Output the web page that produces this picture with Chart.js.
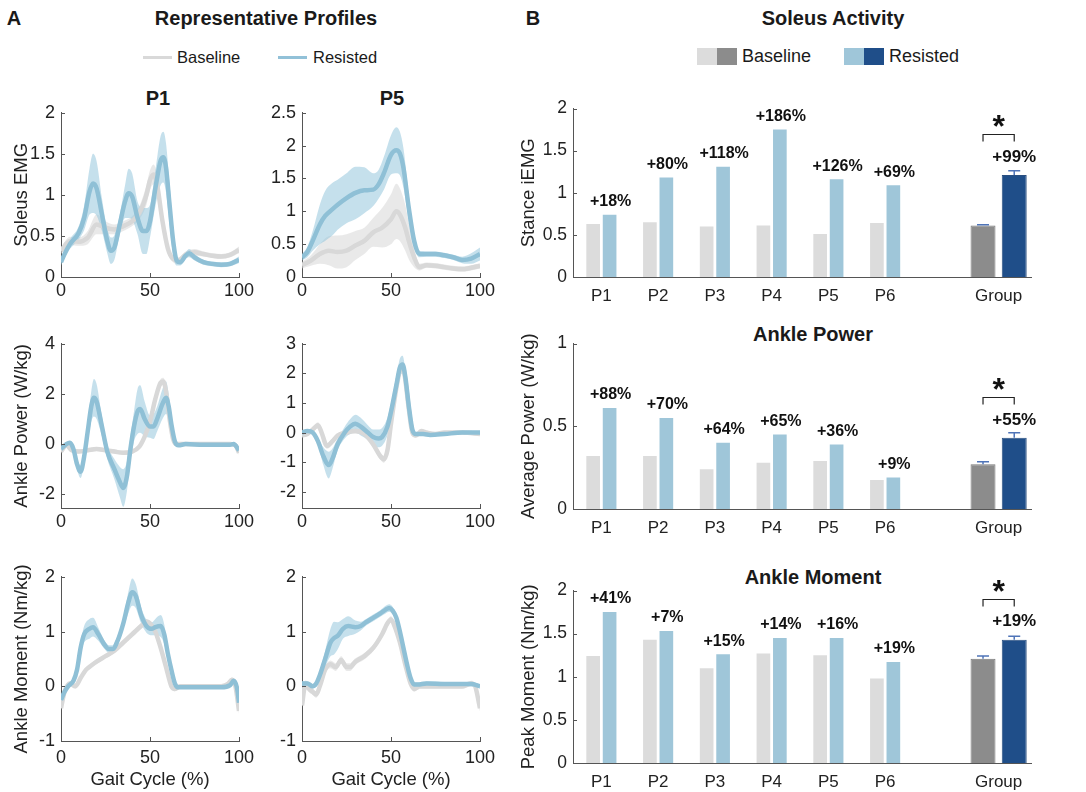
<!DOCTYPE html>
<html>
<head>
<meta charset="utf-8">
<script src="https://cdn.jsdelivr.net/npm/chart.js@4.4.1/dist/chart.umd.min.js"></script>
<style>
body { margin: 0; background: #fff; width: 1086px; height: 792px; position: relative; overflow: hidden;
       font-family: Arial, "Liberation Sans", sans-serif; color: #1a1a1a; }
canvas { position: absolute; }
.t { position: absolute; white-space: nowrap; transform: translate(-50%, -50%); font-weight: bold; font-size: 20px; }
.lg { position: absolute; white-space: nowrap; transform: translateY(-50%); }
.sw { position: absolute; }
</style>
</head>
<body>
<div class="t" style="left:14px;top:18px">A</div>
<div class="t" style="left:266px;top:18px">Representative Profiles</div>
<div class="t" style="left:533px;top:18px">B</div>
<div class="t" style="left:833px;top:18px">Soleus Activity</div>
<div class="t" style="left:158px;top:98px">P1</div>
<div class="t" style="left:392px;top:98px">P5</div>
<div class="t" style="left:813px;top:334px">Ankle Power</div>
<div class="t" style="left:813px;top:577px">Ankle Moment</div>

<div class="sw" style="left:143px;top:56px;width:29px;height:3px;background:#d9d9d9"></div>
<div class="lg" style="left:177px;top:57px;font-size:16.5px">Baseline</div>
<div class="sw" style="left:278px;top:56px;width:29px;height:3px;background:#92c1d8"></div>
<div class="lg" style="left:313px;top:57px;font-size:16.5px">Resisted</div>

<div class="sw" style="left:697px;top:48px;width:20px;height:17px;background:#dcdcdc"></div>
<div class="sw" style="left:717px;top:48px;width:20px;height:17px;background:#8c8c8c"></div>
<div class="lg" style="left:742px;top:56px;font-size:18px">Baseline</div>
<div class="sw" style="left:844px;top:48px;width:20px;height:17px;background:#9fc6d9"></div>
<div class="sw" style="left:864px;top:48px;width:20px;height:17px;background:#1f4e89"></div>
<div class="lg" style="left:889px;top:56px;font-size:18px">Resisted</div>

<canvas id="emg1"></canvas><canvas id="emg5"></canvas>
<canvas id="pow1"></canvas><canvas id="pow5"></canvas>
<canvas id="mom1"></canvas><canvas id="mom5"></canvas>
<canvas id="barEmg"></canvas><canvas id="barPow"></canvas><canvas id="barMom"></canvas>

<script>
// ---- representative profiles (gait cycle %, mean, half-width of band) ----
const emgP1ResX = [0,2,5,10,13,16,18,20,23,26,28,30,33,36,38,40,43,46,48,50,53,56,57.5,59,61,63,65,67,70,72,75,80,85,90,95,100];
const emgP1Res = [0.18,0.28,0.4,0.54,0.72,1.04,1.14,1.08,0.76,0.44,0.32,0.36,0.64,0.92,1.02,0.98,0.72,0.56,0.56,0.68,1.08,1.42,1.46,1.33,0.88,0.44,0.2,0.18,0.26,0.29,0.24,0.18,0.16,0.15,0.16,0.21];
const emgP1ResSd = [0.04,0.05,0.06,0.08,0.15,0.28,0.36,0.33,0.2,0.15,0.16,0.15,0.12,0.2,0.3,0.28,0.2,0.28,0.28,0.2,0.22,0.3,0.31,0.3,0.25,0.18,0.06,0.04,0.04,0.05,0.04,0.03,0.03,0.03,0.03,0.04];
const emgP1BaseX = [0,5,10,15,20,25,30,35,40,44,48,50,52,54,57,60,63,66,70,75,80,85,90,95,100];
const emgP1Base = [0.32,0.44,0.43,0.48,0.64,0.6,0.58,0.62,0.68,0.78,1.0,1.18,1.25,1.12,0.68,0.35,0.22,0.2,0.27,0.3,0.28,0.26,0.25,0.27,0.33];
const emgP1BaseSd = [0.04,0.05,0.05,0.08,0.12,0.08,0.06,0.06,0.06,0.08,0.12,0.12,0.12,0.12,0.1,0.06,0.04,0.04,0.04,0.04,0.03,0.03,0.03,0.03,0.04];

const emgP5ResX = [0,3,6,10,13,17,20,25,30,35,40,43,46,50,53,55,57,60,63,66,70,75,80,85,90,95,100];
const emgP5Res = [0.3,0.38,0.55,0.8,0.93,1.03,1.1,1.2,1.28,1.32,1.33,1.41,1.58,1.86,1.93,1.88,1.66,1.05,0.55,0.35,0.35,0.35,0.33,0.3,0.26,0.28,0.35];
const emgP5ResSd = [0.05,0.08,0.15,0.3,0.38,0.4,0.38,0.38,0.4,0.35,0.25,0.22,0.25,0.3,0.35,0.33,0.3,0.2,0.1,0.05,0.04,0.04,0.04,0.04,0.05,0.08,0.1];
const emgP5BaseX = [0,5,10,15,20,25,30,35,40,45,50,53,55,58,60,63,66,70,75,80,85,90,95,100];
const emgP5Base = [0.18,0.25,0.35,0.4,0.38,0.4,0.48,0.55,0.68,0.75,0.88,1.0,0.95,0.75,0.55,0.3,0.15,0.18,0.17,0.15,0.13,0.12,0.14,0.17];
const emgP5BaseSd = [0.05,0.08,0.15,0.22,0.25,0.25,0.22,0.2,0.22,0.3,0.38,0.42,0.4,0.35,0.28,0.15,0.05,0.04,0.04,0.04,0.04,0.04,0.04,0.04];

const powP1ResX = [0,3,5,7,9,11,13,15,17,18.5,20,23,26,30,33,35,37,39,41,43,44.5,47,50,52,54,57,59,60.5,62,64,66,70,80,90,95,97,100];
const powP1Res = [-0.2,0.0,0.05,-0.2,-0.8,-1.1,-0.5,0.5,1.5,1.85,1.7,0.7,-0.3,-1.0,-1.5,-1.75,-1.3,-0.2,0.7,1.3,1.4,1.0,0.7,0.7,1.0,1.6,1.85,1.5,0.8,0.1,-0.05,0.0,-0.03,-0.03,-0.03,0.0,-0.25];
const powP1ResSd = [0.05,0.05,0.05,0.1,0.2,0.25,0.3,0.4,0.6,0.75,0.7,0.4,0.3,0.4,0.6,0.75,0.6,0.5,0.6,0.9,0.95,0.7,0.45,0.5,0.5,0.6,0.65,0.5,0.3,0.1,0.05,0.04,0.04,0.04,0.04,0.04,0.05];
const powP1BaseX = [0,3,6,10,15,20,25,30,35,40,44,47,50,53,56,57.5,59,61,63,65,70,80,90,95,98,100];
const powP1Base = [-0.3,-0.05,-0.25,-0.3,-0.25,-0.2,-0.25,-0.3,-0.35,-0.3,-0.1,0.3,0.9,1.8,2.45,2.5,2.1,1.0,0.2,0.0,0.0,0.0,0.0,0.0,-0.05,-0.35];
const powP1BaseSd = [0.08,0.08,0.08,0.08,0.08,0.08,0.08,0.08,0.08,0.08,0.08,0.1,0.12,0.15,0.15,0.15,0.15,0.12,0.08,0.06,0.05,0.05,0.05,0.05,0.06,0.08];

const powP5ResX = [0,3,6,9,12,15,17,20,24,27,30,33,37,40,43,45,48,50,53,55,56.5,58,60,62,64,68,72,80,90,100];
const powP5Res = [0.0,0.05,0.0,-0.3,-0.8,-1.1,-0.9,-0.4,0.0,0.2,0.3,0.2,0.0,-0.15,-0.2,-0.15,0.2,0.7,1.6,2.2,2.3,1.9,0.9,0.1,-0.05,-0.05,-0.08,-0.05,0.0,0.0];
const powP5ResSd = [0.04,0.05,0.05,0.1,0.3,0.45,0.35,0.2,0.2,0.25,0.3,0.3,0.25,0.25,0.3,0.3,0.3,0.3,0.3,0.3,0.3,0.25,0.15,0.08,0.05,0.05,0.05,0.04,0.04,0.05];
const powP5BaseX = [0,3,6,9,11,14,17,20,25,30,35,40,44,46,48,50,53,55,56.5,58,60,62,64,67,70,75,80,90,100];
const powP5Base = [-0.1,-0.05,0.1,0.25,0.0,-0.45,-0.3,-0.1,0.0,0.05,-0.05,-0.4,-0.8,-0.9,-0.6,0.3,1.5,2.1,2.25,1.8,0.8,0.0,-0.1,0.05,0.0,-0.05,0.0,0.0,-0.05];
const powP5BaseSd = [0.06,0.06,0.08,0.1,0.1,0.1,0.1,0.08,0.08,0.08,0.08,0.1,0.12,0.12,0.12,0.12,0.12,0.12,0.12,0.12,0.1,0.08,0.06,0.06,0.05,0.05,0.05,0.05,0.06];

const momP1ResX = [0,2,4,7,9,11,13,16,18,21,24,27,29,32,35,38,40,42,45,48,51,53,56,58,60,62,64,66,70,80,90,95,97,99,100];
const momP1Res = [-0.25,-0.1,0.0,0.1,0.3,0.7,0.95,1.05,1.08,0.95,0.78,0.68,0.68,0.85,1.15,1.55,1.72,1.65,1.3,1.1,1.05,1.08,1.1,0.95,0.6,0.3,0.05,-0.02,-0.02,-0.02,-0.02,0.02,0.1,-0.05,-0.3];
const momP1ResSd = [0.03,0.03,0.03,0.04,0.06,0.1,0.15,0.18,0.17,0.12,0.08,0.07,0.07,0.08,0.1,0.2,0.25,0.22,0.15,0.12,0.12,0.15,0.2,0.18,0.1,0.06,0.03,0.02,0.02,0.02,0.02,0.02,0.03,0.03,0.03];
const momP1BaseX = [0,2,5,8,11,14,17,20,25,30,35,40,45,48,50,53,56,59,62,64,67,70,80,90,94,96,98,100];
const momP1Base = [-0.4,-0.1,0.05,0.0,0.15,0.3,0.38,0.45,0.55,0.65,0.8,0.95,1.1,1.18,1.15,1.0,0.7,0.35,0.0,-0.05,0.0,0.0,0.0,0.0,0.05,0.12,0.0,-0.45];
const momP1BaseSd = [0.04,0.04,0.04,0.04,0.04,0.04,0.04,0.04,0.04,0.04,0.04,0.04,0.05,0.05,0.05,0.05,0.05,0.05,0.04,0.04,0.04,0.04,0.04,0.04,0.04,0.04,0.04,0.05];

const momP5ResX = [0,3,6,8,10,13,16,18,20,23,26,30,33,36,40,44,47,49,51,53,55,57,59,61,63,65,70,80,90,95,100];
const momP5Res = [0.05,0.05,0.0,0.05,0.2,0.5,0.8,0.88,0.92,1.05,1.1,1.08,1.1,1.17,1.25,1.33,1.4,1.43,1.38,1.25,1.0,0.7,0.4,0.15,0.03,0.03,0.05,0.04,0.04,0.04,0.0];
const momP5ResSd = [0.04,0.04,0.04,0.05,0.08,0.15,0.25,0.3,0.25,0.18,0.18,0.12,0.08,0.06,0.06,0.06,0.07,0.07,0.07,0.06,0.05,0.05,0.05,0.04,0.04,0.04,0.04,0.04,0.04,0.04,0.04];
const momP5BaseX = [0,2,4,6,8,10,13,16,19,22,25,27,30,35,40,45,48,50,52,55,58,61,63,66,70,80,90,95,97,100];
const momP5Base = [-0.35,0.05,-0.05,-0.1,-0.15,0.0,0.3,0.4,0.35,0.48,0.35,0.35,0.45,0.55,0.7,0.95,1.15,1.22,1.1,0.8,0.4,0.05,-0.05,0.0,0.0,0.0,0.0,0.05,0.02,-0.4];
const momP5BaseSd = [0.06,0.06,0.06,0.06,0.06,0.06,0.06,0.07,0.07,0.07,0.07,0.07,0.06,0.06,0.06,0.06,0.06,0.06,0.06,0.06,0.06,0.05,0.05,0.05,0.05,0.05,0.05,0.05,0.05,0.06];

// ---- bar summaries ----
const participants = ['P1', 'P2', 'P3', 'P4', 'P5', 'P6'];
const groupLabel = 'Group';

const emgBase = [0.63, 0.65, 0.60, 0.61, 0.51, 0.64];
const emgRes = [0.74, 1.18, 1.31, 1.75, 1.16, 1.09];
const emgChange = [18, 80, 118, 186, 126, 69];
const emgGroup = [0.61, 1.21];      // baseline, resisted
const emgGroupErr = [0.01, 0.05];
const emgGroupChange = 99;

const powBase = [0.32, 0.32, 0.24, 0.28, 0.29, 0.175];
const powRes = [0.61, 0.55, 0.40, 0.45, 0.39, 0.19];
const powChange = [88, 70, 64, 65, 36, 9];
const powGroup = [0.27, 0.43];
const powGroupErr = [0.015, 0.03];
const powGroupChange = 55;

const momBase = [1.24, 1.43, 1.10, 1.27, 1.25, 0.98];
const momRes = [1.75, 1.53, 1.26, 1.45, 1.45, 1.17];
const momChange = [41, 7, 15, 14, 16, 19];
const momGroup = [1.21, 1.43];
const momGroupErr = [0.03, 0.04];
const momGroupChange = 19;

// ---- styling ----
const axisColor = '#555';
const textColor = '#222';
const fontFam = 'Arial, "Liberation Sans", sans-serif';
const resLine = '#8fc0d6', resBand = 'rgba(150,198,220,0.55)';
const baseLine = '#d8d8d8', baseBand = 'rgba(215,215,215,0.55)';
const plainNum = v => String(Math.round(v * 100) / 100);

// small inward tick marks, like the original axes; also lets the x axis run on past the plot
const inTicks = {
  id: 'inTicks',
  afterDraw(chart, args, o) {
    const { ctx, chartArea: a, scales } = chart;
    ctx.save();
    ctx.strokeStyle = axisColor;
    ctx.lineWidth = 1;
    scales.y.ticks.forEach(t => {
      const py = Math.round(scales.y.getPixelForValue(t.value)) + 0.5;
      ctx.beginPath(); ctx.moveTo(a.left, py); ctx.lineTo(a.left + 4, py); ctx.stroke();
    });
    if (scales.x.type === 'linear') {
      scales.x.ticks.forEach(t => {
        const px = Math.round(scales.x.getPixelForValue(t.value)) + 0.5;
        ctx.beginPath(); ctx.moveTo(px, a.bottom); ctx.lineTo(px, a.bottom - 4); ctx.stroke();
      });
    }
    if (o && o.extend) {
      const py = Math.round(a.bottom) + 0.5;
      ctx.beginPath(); ctx.moveTo(a.right, py); ctx.lineTo(a.right + o.extend, py); ctx.stroke();
    }
    ctx.restore();
  }
};

function place(id, left, top, width, height) {
  const c = document.getElementById(id);
  c.width = width; c.height = height;
  c.style.left = left + 'px'; c.style.top = top + 'px';
  c.style.width = width + 'px'; c.style.height = height + 'px';
  return c;
}

function bandSets(xs, mean, sd, line, band, order) {
  const pts = f => xs.map((x, i) => ({ x: x, y: f(i) }));
  const common = { pointRadius: 0, cubicInterpolationMode: 'monotone' };
  return [
    Object.assign({ data: pts(i => mean[i] + sd[i]), fill: '+1', backgroundColor: band,
      borderColor: 'rgba(0,0,0,0)', borderWidth: 0, order: order + 2 }, common),
    Object.assign({ data: pts(i => mean[i] - sd[i]), fill: false,
      borderColor: 'rgba(0,0,0,0)', borderWidth: 0, order: order + 2 }, common),
    Object.assign({ data: pts(i => mean[i]), fill: false, borderColor: line,
      borderWidth: 4.5, order: order }, common)
  ];
}

// c: canvas box, p: plot box
function lineChart(id, c, p, series, yOpt) {
  place(id, c.l, c.t, c.w, c.h);
  const ctx = document.getElementById(id).getContext('2d');
  return new Chart(ctx, {
    type: 'line',
    data: {
      datasets: [
        ...bandSets(series.baseX, series.base, series.baseSd, baseLine, baseBand, 1),
        ...bandSets(series.resX, series.res, series.resSd, resLine, resBand, 0)
      ]
    },
    options: {
      responsive: false,
      animation: false,
      layout: { padding: { top: p.t - c.t, right: c.l + c.w - p.r, left: 0, bottom: 0 } },
      plugins: { legend: { display: false }, tooltip: { enabled: false } },
      scales: {
        x: {
          type: 'linear', min: 0, max: 100,
          afterBuildTicks: s => { s.ticks = [0, 50, 100].map(v => ({ value: v })); },
          afterFit: s => { s.height = c.t + c.h - p.b; },
          grid: { display: false, drawTicks: false },
          border: { display: true, color: axisColor, width: 1 },
          ticks: { color: textColor, padding: yOpt.xPad, font: { family: fontFam, size: 18 },
                   callback: plainNum },
          title: { display: !!yOpt.xTitle, text: yOpt.xTitle || '', color: textColor,
                   padding: { top: 0, bottom: 1 }, font: { family: fontFam, size: 18.5 } }
        },
        y: {
          min: yOpt.min, max: yOpt.max,
          afterBuildTicks: s => { s.ticks = yOpt.ticks.map(v => ({ value: v })); },
          afterFit: s => { s.width = p.l - c.l; },
          grid: { display: false, drawTicks: false },
          border: { display: true, color: axisColor, width: 1 },
          ticks: { color: textColor, padding: 6, font: { family: fontFam, size: 18 }, callback: plainNum },
          title: { display: !!yOpt.title, text: yOpt.title || '', color: textColor,
                   padding: { top: 11, bottom: 0 }, font: { family: fontFam, size: 18.5 } }
        }
      }
    },
    plugins: [inTicks]
  });
}

const col1 = { l: 0, w: 262, pl: 61, pr: 239 };
const col2 = { l: 250, w: 253, pl: 302, pr: 480 };
const rows = [
  { t: 96, h: 209, pt: 111, pb: 277 },
  { t: 327, h: 209, pt: 342, pb: 508 },
  { t: 560, h: 232, pt: 575, pb: 741 }
];
function boxes(col, row) {
  return [{ l: col.l, t: row.t, w: col.w, h: row.h }, { l: col.pl, r: col.pr, t: row.pt, b: row.pb }];
}

lineChart('emg1', ...boxes(col1, rows[0]),
  { resX: emgP1ResX, res: emgP1Res, resSd: emgP1ResSd, baseX: emgP1BaseX, base: emgP1Base, baseSd: emgP1BaseSd },
  { min: 0, max: 2, ticks: [0, 0.5, 1, 1.5, 2], title: 'Soleus EMG', xPad: 3 });
lineChart('emg5', ...boxes(col2, rows[0]),
  { resX: emgP5ResX, res: emgP5Res, resSd: emgP5ResSd, baseX: emgP5BaseX, base: emgP5Base, baseSd: emgP5BaseSd },
  { min: 0, max: 2.5, ticks: [0, 0.5, 1, 1.5, 2, 2.5], xPad: 3 });
lineChart('pow1', ...boxes(col1, rows[1]),
  { resX: powP1ResX, res: powP1Res, resSd: powP1ResSd, baseX: powP1BaseX, base: powP1Base, baseSd: powP1BaseSd },
  { min: -2.55, max: 4, ticks: [-2, 0, 2, 4], title: 'Ankle Power (W/kg)', xPad: 3 });
lineChart('pow5', ...boxes(col2, rows[1]),
  { resX: powP5ResX, res: powP5Res, resSd: powP5ResSd, baseX: powP5BaseX, base: powP5Base, baseSd: powP5BaseSd },
  { min: -2.55, max: 3, ticks: [-2, -1, 0, 1, 2, 3], xPad: 3 });
lineChart('mom1', ...boxes(col1, rows[2]),
  { resX: momP1ResX, res: momP1Res, resSd: momP1ResSd, baseX: momP1BaseX, base: momP1Base, baseSd: momP1BaseSd },
  { min: -1, max: 2, ticks: [-1, 0, 1, 2], title: 'Ankle Moment (Nm/kg)', xTitle: 'Gait Cycle (%)', xPad: 6 });
lineChart('mom5', ...boxes(col2, rows[2]),
  { resX: momP5ResX, res: momP5Res, resSd: momP5ResSd, baseX: momP5BaseX, base: momP5Base, baseSd: momP5BaseSd },
  { min: -1, max: 2, ticks: [-1, 0, 1, 2], xTitle: 'Gait Cycle (%)', xPad: 6 });

// ---- bar charts ----
const errColor = '#4f74b8';

// error bars, % change labels and significance bracket
const barNotes = {
  id: 'barNotes',
  afterDatasetsDraw(chart, args, o) {
    const { ctx } = chart;
    const y = chart.scales.y;
    const last = o.labels.length - 1;
    ctx.save();
    // error bars on group bars
    [2, 3].forEach((di, k) => {
      const bar = chart.getDatasetMeta(di).data[last];
      const top = y.getPixelForValue(o.group[k] + o.err[k]);
      ctx.strokeStyle = errColor; ctx.lineWidth = 1.5;
      ctx.beginPath();
      ctx.moveTo(bar.x, bar.y); ctx.lineTo(bar.x, top);
      ctx.moveTo(bar.x - 6, top); ctx.lineTo(bar.x + 6, top);
      ctx.stroke();
    });
    // percent change labels
    ctx.fillStyle = '#111';
    ctx.font = 'bold 16px ' + fontFam;
    ctx.textAlign = 'center';
    ctx.textBaseline = 'middle';
    const resMeta = chart.getDatasetMeta(1);
    o.change.forEach((v, i) => {
      const bar = resMeta.data[i];
      ctx.fillText('+' + v + '%', bar.x + 1, bar.y - 13);
    });
    const gb = chart.getDatasetMeta(2).data[last];
    const gr = chart.getDatasetMeta(3).data[last];
    ctx.font = 'bold 17px ' + fontFam;
    ctx.fillText('+' + o.groupChange + '%', gr.x, gr.y - 18);
    // bracket + star
    const bt = Math.round(gr.y - 41) + 0.5;
    ctx.strokeStyle = '#222'; ctx.lineWidth = 1.2;
    ctx.beginPath();
    ctx.moveTo(gb.x, bt + 7); ctx.lineTo(gb.x, bt); ctx.lineTo(gr.x, bt); ctx.lineTo(gr.x, bt + 7);
    ctx.stroke();
    ctx.font = 'bold 32px ' + fontFam;
    ctx.textBaseline = 'alphabetic';
    ctx.fillText('*', (gb.x + gr.x) / 2, bt + 2);
    ctx.restore();
  }
};

function barChart(id, c, p, base, res, change, group, err, groupChange, yMax, yTitle) {
  place(id, c.l, c.t, c.w, c.h);
  const labels = [...participants, '', groupLabel];
  const pad = arr => [...arr, null, null];
  const grp = v => [null, null, null, null, null, null, null, v];
  const indiv = { categoryPercentage: 0.58, barPercentage: 0.83, skipNull: true };
  const grpOpt = { categoryPercentage: 1.1, barPercentage: 0.8, skipNull: true };
  const ctx = document.getElementById(id).getContext('2d');
  return new Chart(ctx, {
    type: 'bar',
    data: {
      labels: labels,
      datasets: [
        Object.assign({ label: 'Baseline', data: pad(base), backgroundColor: '#dcdcdc' }, indiv),
        Object.assign({ label: 'Resisted', data: pad(res), backgroundColor: '#9fc6d9' }, indiv),
        Object.assign({ label: 'Baseline group', data: grp(group[0]), backgroundColor: '#8c8c8c',
          borderColor: '#7a7a7a', borderWidth: 1 }, grpOpt),
        Object.assign({ label: 'Resisted group', data: grp(group[1]), backgroundColor: '#1f4e89',
          borderColor: '#2a4f80', borderWidth: 1 }, grpOpt)
      ]
    },
    options: {
      responsive: false,
      animation: false,
      layout: { padding: { top: p.t - c.t, right: c.l + c.w - p.r, left: 0, bottom: 0 } },
      plugins: {
        legend: { display: false }, tooltip: { enabled: false },
        inTicks: { extend: p.ext },
        barNotes: { labels: labels, change: change, group: group, err: err, groupChange: groupChange }
      },
      scales: {
        x: {
          afterFit: s => { s.height = c.t + c.h - p.b; },
          grid: { display: false, drawTicks: false },
          border: { display: true, color: axisColor, width: 1 },
          ticks: { color: textColor, padding: 9, autoSkip: false, maxRotation: 0,
                   font: { family: fontFam, size: 17 } }
        },
        y: {
          min: 0, max: yMax,
          ticks: { stepSize: 0.5, color: textColor, padding: 6, font: { family: fontFam, size: 17.5 },
                   callback: plainNum },
          afterFit: s => { s.width = p.l - c.l; },
          grid: { display: false, drawTicks: false },
          border: { display: true, color: axisColor, width: 1 },
          title: { display: true, text: yTitle, color: textColor,
                   padding: { top: 13, bottom: 0 }, font: { family: fontFam, size: 18.5 } }
        }
      }
    },
    plugins: [inTicks, barNotes]
  });
}

barChart('barEmg', { l: 505, t: 92, w: 581, h: 215 }, { l: 573, r: 1027, ext: 5, t: 107, b: 277 },
  emgBase, emgRes, emgChange, emgGroup, emgGroupErr, emgGroupChange, 2, 'Stance iEMG');
barChart('barPow', { l: 505, t: 327, w: 581, h: 212 }, { l: 573, r: 1027, ext: 5, t: 342, b: 509 },
  powBase, powRes, powChange, powGroup, powGroupErr, powGroupChange, 1, 'Average Power (W/kg)');
barChart('barMom', { l: 505, t: 574, w: 581, h: 218 }, { l: 573, r: 1027, ext: 5, t: 589, b: 763 },
  momBase, momRes, momChange, momGroup, momGroupErr, momGroupChange, 2, 'Peak Moment (Nm/kg)');
</script>
</body>
</html>
